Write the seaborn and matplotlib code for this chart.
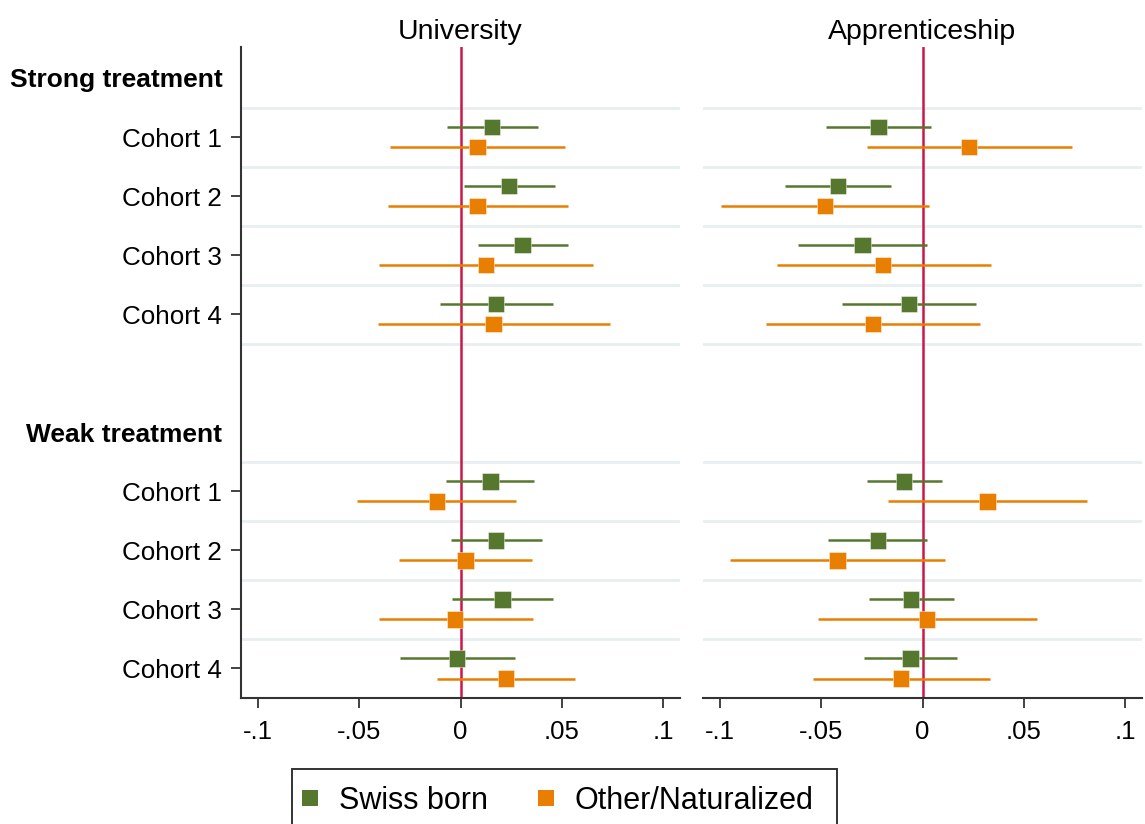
import numpy as np
import pandas as pd
import matplotlib
matplotlib.use("Agg")
import matplotlib.pyplot as plt
import seaborn as sns
from matplotlib.lines import Line2D
from matplotlib.patches import Rectangle

# ---------------- data ----------------
panels = ["University", "Apprenticeship"]
treatments = ["Strong treatment", "Weak treatment"]
cohorts = ["Cohort 1", "Cohort 2", "Cohort 3", "Cohort 4"]
groups = ["Swiss born", "Other/Naturalized"]

# University – Strong treatment
uni_strong_swiss_est = [0.0156, 0.0240, 0.0306, 0.0176]
uni_strong_swiss_lo = [-0.0066, 0.0015, 0.0088, -0.0099]
uni_strong_swiss_hi = [0.0383, 0.0465, 0.0529, 0.0456]
uni_strong_other_est = [0.0084, 0.0084, 0.0126, 0.0163]
uni_strong_other_lo = [-0.0346, -0.0357, -0.0403, -0.0405]
uni_strong_other_hi = [0.0518, 0.0529, 0.0654, 0.0736]
# University – Weak treatment
uni_weak_swiss_est = [0.0148, 0.0176, 0.0207, -0.0018]
uni_weak_swiss_lo = [-0.0070, -0.0046, -0.0040, -0.0300]
uni_weak_swiss_hi = [0.0363, 0.0401, 0.0458, 0.0269]
uni_weak_other_est = [-0.0117, 0.0024, -0.0026, 0.0225]
uni_weak_other_lo = [-0.0509, -0.0304, -0.0403, -0.0115]
uni_weak_other_hi = [0.0273, 0.0352, 0.0357, 0.0564]
# Apprenticeship – Strong treatment
app_strong_swiss_est = [-0.0217, -0.0416, -0.0296, -0.0067]
app_strong_swiss_lo = [-0.0477, -0.0678, -0.0615, -0.0396]
app_strong_swiss_hi = [0.0041, -0.0153, 0.0021, 0.0262]
app_strong_other_est = [0.0230, -0.0480, -0.0194, -0.0245]
app_strong_other_lo = [-0.0273, -0.0992, -0.0720, -0.0771]
app_strong_other_hi = [0.0737, 0.0033, 0.0336, 0.0285]
# Apprenticeship – Weak treatment
app_weak_swiss_est = [-0.0090, -0.0220, -0.0056, -0.0059]
app_weak_swiss_lo = [-0.0276, -0.0466, -0.0265, -0.0288]
app_weak_swiss_hi = [0.0097, 0.0023, 0.0156, 0.0169]
app_weak_other_est = [0.0321, -0.0419, 0.0023, -0.0105]
app_weak_other_lo = [-0.0168, -0.0951, -0.0518, -0.0538]
app_weak_other_hi = [0.0811, 0.0113, 0.0566, 0.0331]

xtick_values = [-0.1, -0.05, 0, 0.05, 0.1]
xtick_labels = ["-.1", "-.05", "0", ".05", ".1"]

# ---------------- assemble long table ----------------
series = {
    ("University", "Strong treatment", "Swiss born"): (uni_strong_swiss_est, uni_strong_swiss_lo, uni_strong_swiss_hi),
    ("University", "Strong treatment", "Other/Naturalized"): (uni_strong_other_est, uni_strong_other_lo, uni_strong_other_hi),
    ("University", "Weak treatment", "Swiss born"): (uni_weak_swiss_est, uni_weak_swiss_lo, uni_weak_swiss_hi),
    ("University", "Weak treatment", "Other/Naturalized"): (uni_weak_other_est, uni_weak_other_lo, uni_weak_other_hi),
    ("Apprenticeship", "Strong treatment", "Swiss born"): (app_strong_swiss_est, app_strong_swiss_lo, app_strong_swiss_hi),
    ("Apprenticeship", "Strong treatment", "Other/Naturalized"): (app_strong_other_est, app_strong_other_lo, app_strong_other_hi),
    ("Apprenticeship", "Weak treatment", "Swiss born"): (app_weak_swiss_est, app_weak_swiss_lo, app_weak_swiss_hi),
    ("Apprenticeship", "Weak treatment", "Other/Naturalized"): (app_weak_other_est, app_weak_other_lo, app_weak_other_hi),
}

# row layout: header row, then 4 cohort rows, one blank row, next header ...
rows_per_block = len(cohorts) + 2
offsets = {"Swiss born": -0.17, "Other/Naturalized": 0.17}
records = []
for (panel, treat, grp), (est, lo, hi) in series.items():
    t = treatments.index(treat)
    for c, name in enumerate(cohorts):
        row = t * rows_per_block + 1 + c
        records.append(dict(panel=panel, treatment=treat, group=grp, cohort=name,
                            row=row, y=row + offsets[grp],
                            est=est[c], lo=lo[c], hi=hi[c]))
df = pd.DataFrame(records)

# ---------------- style ----------------
sns.set_theme(style="white")
plt.rcParams["font.family"] = ["Liberation Sans", "DejaVu Sans"]
plt.rcParams["text.color"] = "black"
plt.rcParams["xtick.color"] = "black"
plt.rcParams["ytick.color"] = "black"
plt.rcParams["axes.labelcolor"] = "black"

green = "#56772e"
orange = "#e97f00"
palette = {"Swiss born": green, "Other/Naturalized": orange}
red = "#cc1848"
grid_col = "#e8eff1"
spine_col = "#333333"

W, H = 1145, 824
fig = plt.figure(figsize=(W / 100, H / 100), dpi=100)
ax_l = fig.add_axes([241 / W, 1 - 698 / H, (680 - 241) / W, (698 - 47) / H])
ax_r = fig.add_axes([703 / W, 1 - 698 / H, (1142 - 703) / W, (698 - 47) / H])

header_rows = [t * rows_per_block for t in range(len(treatments))]
cohort_rows = [t * rows_per_block + 1 + c for t in range(len(treatments)) for c in range(len(cohorts))]
last_row = cohort_rows[-1]
grid_rows = [r - 0.5 for r in cohort_rows] + [header_rows[0] + len(cohorts) + 0.5]

for ax, panel in zip([ax_l, ax_r], panels):
    sub = df[df.panel == panel]
    for r in grid_rows:
        ax.axhline(r, color=grid_col, lw=2.0, zorder=0)
    ax.axvline(0, color=red, lw=1.8, zorder=1)
    for grp in groups:
        g = sub[sub.group == grp]
        ax.hlines(g["y"], g["lo"], g["hi"], color=palette[grp], lw=1.8, zorder=2)
    sns.scatterplot(data=sub, x="est", y="y", hue="group", hue_order=groups,
                    palette=palette, marker="s", s=140, linewidth=0.6,
                    edgecolor="#ffffff80", ax=ax, zorder=3, legend=False)
    ax.set_xlim(-0.1083, 0.1083)
    ax.set_ylim(last_row + 0.5, -0.525)
    ax.set_xticks(xtick_values)
    ax.set_xticklabels(xtick_labels)
    ax.set_xlabel("")
    ax.set_ylabel("")
    ax.set_title(panel, fontsize=20.5, pad=6, color="black")
    ax.tick_params(axis="x", length=7.5, width=1.3, color=spine_col, pad=8.5,
                   labelsize=18.5, bottom=True, labelcolor="black")
    for s in ["top", "right"]:
        ax.spines[s].set_visible(False)
    ax.spines["bottom"].set_color(spine_col)
    ax.spines["bottom"].set_linewidth(1.5)

# left panel y axis
ylabels = {}
for t, treat in enumerate(treatments):
    ylabels[header_rows[t]] = treat
    for c, name in enumerate(cohorts):
        ylabels[t * rows_per_block + 1 + c] = name
yt = sorted(ylabels)
ax_l.set_yticks(yt)
ax_l.set_yticklabels([ylabels[r] for r in yt])
ax_l.tick_params(axis="y", length=7.2, width=1.3, color=spine_col, pad=6.3,
                 labelsize=18.7, left=True, labelcolor="black")
for tick, r in zip(ax_l.yaxis.get_major_ticks(), yt):
    if r in header_rows:
        tick.tick1line.set_visible(False)
        tick.label1.set_fontweight("bold")
        tick.label1.set_fontsize(19)
ax_l.spines["left"].set_color(spine_col)
ax_l.spines["left"].set_linewidth(1.5)

ax_r.set_yticks([])
ax_r.spines["left"].set_visible(False)

# legend (frame drawn separately; it runs past the bottom edge as in the reference)
handles = [Line2D([], [], marker="s", linestyle="none", markersize=11.5,
                  markerfacecolor=palette[g], markeredgewidth=0) for g in groups]
leg = fig.legend(handles, groups, loc="center left",
                 bbox_to_anchor=(299 / W, 1 - 801 / H), ncol=2, frameon=False,
                 fontsize=22, handletextpad=0.6, columnspacing=1.55,
                 borderpad=0, handlelength=0.7, borderaxespad=0)
fig.patches.append(Rectangle((292 / W, -0.05), (837 - 292) / W, 0.05 + (1 - 769 / H),
                             transform=fig.transFigure, fill=False,
                             edgecolor=spine_col, linewidth=1.4))

fig.savefig("out.png", dpi=100)
